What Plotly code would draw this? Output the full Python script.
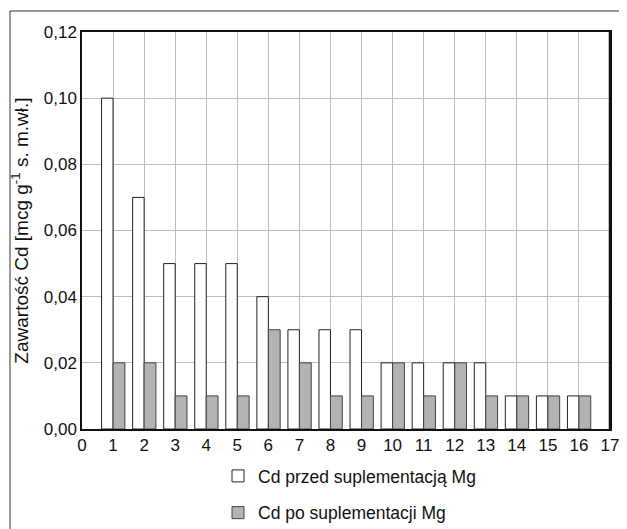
import plotly.graph_objects as go

categories = list(range(1, 17))
cd_before = [0.10, 0.07, 0.05, 0.05, 0.05, 0.04, 0.03, 0.03, 0.03, 0.02, 0.02, 0.02, 0.02, 0.01, 0.01, 0.01]
cd_after = [0.02, 0.02, 0.01, 0.01, 0.01, 0.03, 0.02, 0.01, 0.01, 0.02, 0.01, 0.02, 0.01, 0.01, 0.01, 0.01]
x_ticks = list(range(0, 18))
y_ticks = [0.00, 0.02, 0.04, 0.06, 0.08, 0.10, 0.12]

FONT = "Liberation Sans, Arial, Helvetica, sans-serif"
FS = 17

fig = go.Figure()
fig.add_trace(go.Bar(
    x=categories, y=cd_before, name="Cd przed suplementacją Mg",
    marker=dict(color="white", line=dict(color="#222222", width=1)),
    legendgroup="a", offset=-0.37, width=0.37,
))
fig.add_trace(go.Bar(
    x=categories, y=cd_after, name="Cd po suplementacji Mg",
    marker=dict(color="#b3b3b3", line=dict(color="#444444", width=1)),
    legendgroup="b", offset=0.0, width=0.38,
))

# page body has an 8px margin, so the figure is drawn 8px smaller and shifted
OFF = 8
W, H = 627 - OFF, 529 - OFF
L, R, T, B = 82 - OFF, 17, 32 - OFF, 100
pw, ph = W - L - R, H - T - B

fig.update_layout(
    width=W, height=H,
    margin=dict(l=L, r=R, t=T, b=B, autoexpand=False),
    paper_bgcolor="white", plot_bgcolor="white",
    separators=", ",
    barmode="overlay",
    font=dict(family=FONT, size=FS, color="#111111"),
    showlegend=True,
    legend=dict(
        x=(218 - 82) / pw, y=-(458 - 429) / ph, xanchor="left", yanchor="top",
        traceorder="grouped", tracegroupgap=11,
        font=dict(family=FONT, size=17.5, color="#111111"),
        bgcolor="rgba(0,0,0,0)",
    ),
    xaxis=dict(
        range=[0, 17], tickmode="array", tickvals=x_ticks,
        showgrid=True, gridcolor="#bdbdbd", gridwidth=1,
        showline=True, linecolor="#111111", linewidth=1.5, mirror=True,
        ticks="", zeroline=False,
        tickfont=dict(family=FONT, size=FS, color="#111111"),
    ),
    yaxis=dict(
        range=[0, 0.12], tickmode="array", tickvals=y_ticks, tickformat=".2f",
        showgrid=True, gridcolor="#bdbdbd", gridwidth=1,
        showline=True, linecolor="#111111", linewidth=1.5, mirror=True,
        ticks="", zeroline=False,
        tickfont=dict(family=FONT, size=FS, color="#111111"),
        title=dict(text="Zawartość Cd [mcg g<sup>-1</sup> s. m.wł.]",
                   font=dict(family=FONT, size=19, color="#111111")),
    ),
    shapes=[
        dict(type="line", xref="paper", yref="paper",
             x0=(10 - 82) / pw, x1=(W - L) / pw,
             y0=(H - B - 3) / ph, y1=(H - B - 3) / ph,
             line=dict(color="#333333", width=1)),
        dict(type="line", xref="paper", yref="paper",
             x0=(10 - 82) / pw, x1=(10 - 82) / pw,
             y0=(H - B - 3) / ph, y1=(H - B - H) / ph,
             line=dict(color="#333333", width=1)),
        dict(type="line", xref="paper", yref="paper",
             x0=1, x1=1, y0=0, y1=1,
             line=dict(color="#111111", width=2.5)),
    ],
)

fig.write_html("out.html")
